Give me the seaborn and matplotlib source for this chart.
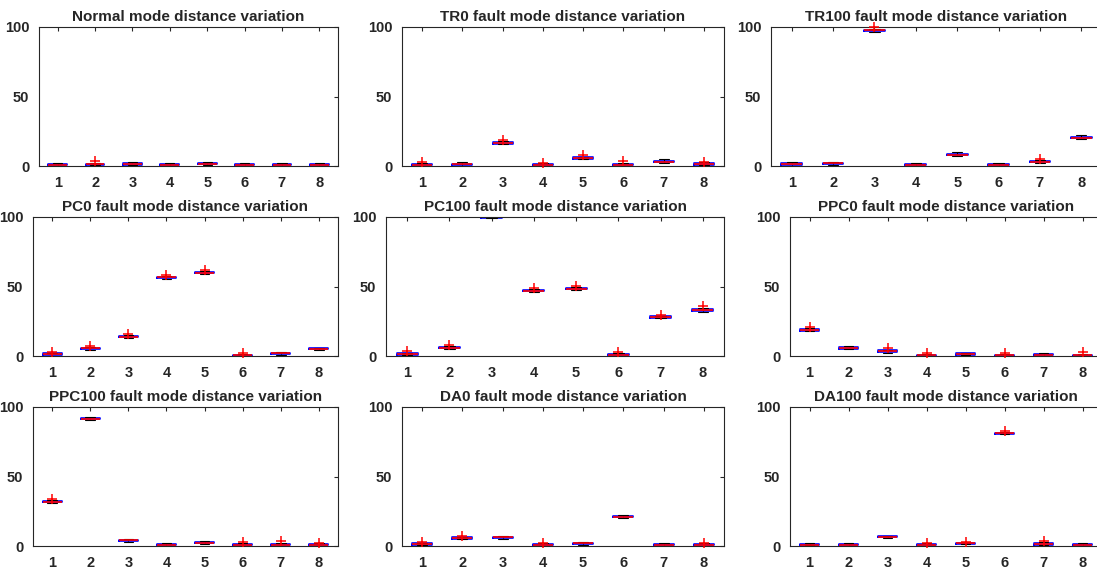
import numpy as np
import pandas as pd
import matplotlib
matplotlib.use('Agg')
import matplotlib.pyplot as plt
import seaborn as sns

sns.set_style('white')
plt.rcParams['font.family'] = ['Liberation Sans', 'DejaVu Sans']
plt.rcParams['font.weight'] = 'bold'

groups = ['1', '2', '3', '4', '5', '6', '7', '8']

# each box: [lower whisker, q1, median, q3, upper whisker]
normal_box = [[0.3, 0.6, 1.0, 1.3, 2.0], [0.4, 0.8, 1.2, 1.6, 2.4], [0.5, 1.0, 1.5, 2.0, 2.6],
              [0.3, 0.6, 1.0, 1.4, 2.2], [0.6, 1.2, 1.6, 2.0, 2.8], [0.3, 0.6, 1.0, 1.4, 2.2],
              [0.3, 0.7, 1.0, 1.3, 1.9], [0.3, 0.6, 1.0, 1.4, 2.2]]
normal_out = [('2', 3.5)]

tr0_box = [[0.3, 0.6, 1.0, 1.4, 2.0], [0.3, 0.7, 1.1, 1.5, 2.6], [15.5, 16.0, 16.5, 17.0, 17.8],
           [0.2, 0.5, 0.9, 1.3, 1.8], [4.8, 5.3, 5.7, 6.2, 6.8], [0.3, 0.7, 1.0, 1.5, 2.2],
           [2.0, 2.7, 3.2, 3.8, 5.0], [0.5, 1.0, 1.5, 2.0, 2.6]]
tr0_out = [('1', 3.0), ('3', 18.5), ('4', 2.0), ('5', 8.0), ('6', 3.5), ('8', 3.0)]

tr100_box = [[0.3, 0.8, 1.3, 1.8, 3.0], [0.8, 1.3, 1.8, 2.3, 2.8], [96.5, 97.0, 97.5, 98.0, 98.6],
             [0.2, 0.5, 0.9, 1.3, 1.8], [7.0, 7.6, 8.0, 8.6, 10.0], [0.3, 0.6, 1.0, 1.4, 2.2],
             [2.0, 2.6, 3.0, 3.5, 4.0], [19.3, 20.0, 20.5, 21.0, 22.0]]
tr100_out = [('3', 99.8), ('7', 4.8)]

pc0_box = [[0.3, 0.8, 1.3, 1.8, 2.4], [4.5, 5.0, 5.5, 6.0, 6.5], [13.0, 13.5, 14.0, 14.5, 15.0],
           [55.5, 56.0, 56.5, 57.0, 57.5], [59.3, 59.7, 60.0, 60.4, 60.8], [0.1, 0.3, 0.6, 0.9, 1.4],
           [1.0, 1.5, 2.0, 2.5, 3.2], [4.2, 4.7, 5.0, 5.5, 6.0]]
pc0_out = [('1', 3.0), ('2', 7.2), ('3', 15.8), ('4', 58.5), ('5', 62.0), ('6', 2.5)]

pc100_box = [[0.4, 0.9, 1.4, 1.9, 2.5], [5.0, 5.5, 6.0, 6.5, 7.0], [99.0, 99.4, 99.8, 100.2, 100.6],
             [46.0, 46.5, 47.0, 47.5, 48.0], [47.5, 48.0, 48.5, 49.0, 49.5], [0.2, 0.5, 0.9, 1.3, 1.8],
             [27.0, 27.5, 28.0, 28.5, 29.0], [32.0, 32.5, 33.0, 33.5, 34.5]]
pc100_out = [('1', 3.5), ('2', 7.8), ('4', 49.0), ('5', 50.5), ('6', 3.0), ('7', 29.8), ('8', 35.8)]

ppc0_box = [[17.8, 18.3, 18.8, 19.3, 19.8], [4.8, 5.3, 5.8, 6.3, 7.0], [2.5, 3.0, 3.5, 4.0, 4.6],
            [0.1, 0.3, 0.6, 0.9, 1.4], [0.6, 1.0, 1.4, 1.8, 2.4], [0.1, 0.3, 0.6, 0.9, 1.4],
            [0.3, 0.6, 1.0, 1.4, 2.0], [0.1, 0.3, 0.6, 0.9, 1.4]]
ppc0_out = [('1', 21.0), ('3', 5.5), ('4', 2.5), ('6', 2.0), ('8', 3.0)]

ppc100_box = [[30.8, 31.3, 31.8, 32.3, 32.8], [90.8, 91.3, 91.7, 92.1, 92.8], [3.0, 3.5, 4.0, 4.5, 5.0],
              [0.3, 0.6, 1.0, 1.4, 1.8], [1.5, 2.0, 2.4, 2.8, 3.5], [0.3, 0.6, 1.0, 1.4, 2.0],
              [0.3, 0.6, 1.0, 1.4, 2.0], [0.3, 0.6, 1.0, 1.4, 1.9]]
ppc100_out = [('1', 33.8), ('6', 3.0), ('7', 3.5), ('8', 2.5)]

da0_box = [[0.4, 0.9, 1.4, 1.9, 2.4], [4.8, 5.3, 5.8, 6.3, 6.8], [5.3, 5.8, 6.3, 6.8, 7.5],
           [0.2, 0.5, 0.9, 1.3, 1.8], [1.0, 1.5, 2.0, 2.5, 3.0], [20.3, 20.8, 21.2, 21.6, 22.0],
           [0.3, 0.6, 1.0, 1.4, 2.4], [0.2, 0.5, 0.9, 1.3, 1.8]]
da0_out = [('1', 3.0), ('2', 7.5), ('4', 2.5), ('8', 2.5)]

da100_box = [[0.4, 0.7, 1.0, 1.3, 1.8], [0.3, 0.6, 1.0, 1.4, 2.4], [5.8, 6.2, 6.6, 7.0, 7.5],
             [0.2, 0.5, 0.9, 1.3, 1.8], [1.2, 1.6, 2.0, 2.4, 2.8], [80.4, 80.8, 81.2, 81.6, 82.0],
             [0.6, 1.0, 1.5, 2.0, 2.6], [0.3, 0.6, 1.0, 1.4, 2.2]]
da100_out = [('4', 2.5), ('5', 3.0), ('6', 82.7), ('7', 3.5)]

panels = [
    ('Normal mode distance variation', normal_box, normal_out),
    ('TR0 fault mode distance variation', tr0_box, tr0_out),
    ('TR100 fault mode distance variation', tr100_box, tr100_out),
    ('PC0 fault mode distance variation', pc0_box, pc0_out),
    ('PC100 fault mode distance variation', pc100_box, pc100_out),
    ('PPC0 fault mode distance variation', ppc0_box, ppc0_out),
    ('PPC100 fault mode distance variation', ppc100_box, ppc100_out),
    ('DA0 fault mode distance variation', da0_box, da0_out),
    ('DA100 fault mode distance variation', da100_box, da100_out),
]

# axes boxes in pixels (left, right, top, bottom)
W, H = 1097, 569
boxes_px = [
    (39, 338, 27, 166), (402, 724, 27, 166), (771, 1102, 27, 166),
    (33, 338, 217, 356), (386, 724, 217, 356), (790, 1102, 217, 356),
    (33, 338, 407, 546), (402, 724, 407, 546), (790, 1102, 407, 546),
]

fig = plt.figure(figsize=(W / 100, H / 100), dpi=100)

for (title, box, out), (l, r, t, b) in zip(panels, boxes_px):
    ax = fig.add_axes([l / W, 1 - b / H, (r - l) / W, (b - t) / H])
    df = pd.DataFrame([(g, v) for g, vals in zip(groups, box) for v in vals],
                      columns=['group', 'value'])
    sns.boxplot(data=df, x='group', y='value', order=groups, ax=ax,
                whis=(0, 100), showfliers=False, width=0.5, fill=False,
                color='blue', linewidth=1.2,
                medianprops={'color': 'red', 'linewidth': 1.2},
                whiskerprops={'color': 'black', 'linestyle': '--', 'linewidth': 0.8},
                capprops={'color': 'black', 'linewidth': 0.8})
    if out:
        odf = pd.DataFrame(out, columns=['group', 'value'])
        sns.stripplot(data=odf, x='group', y='value', order=groups, ax=ax,
                      jitter=False, marker='+', color='red',
                      size=7, linewidth=1.1, clip_on=False, zorder=10)
        # make sure the + signs are pure red
        for coll in ax.collections:
            coll.set_edgecolor('red')
            coll.set_facecolor('red')
            coll.set_linewidth(1.1)
    ax.set_xlim(-0.5, 7.5)
    ax.set_ylim(0, 100)
    ax.set_yticks([0, 50, 100])
    ax.set_xlabel('')
    ax.set_ylabel('')
    ax.set_title(title, fontsize=11, fontweight='bold', pad=4)
    ax.tick_params(direction='in', top=True, right=True, length=3, width=0.8,
                   labelsize=10.5, color='#262626', pad=7)
    for lab in ax.get_xticklabels() + ax.get_yticklabels():
        lab.set_fontweight('bold')
    for s in ax.spines.values():
        s.set_color('#262626')
        s.set_linewidth(0.8)

fig.savefig('out.png', dpi=100)
